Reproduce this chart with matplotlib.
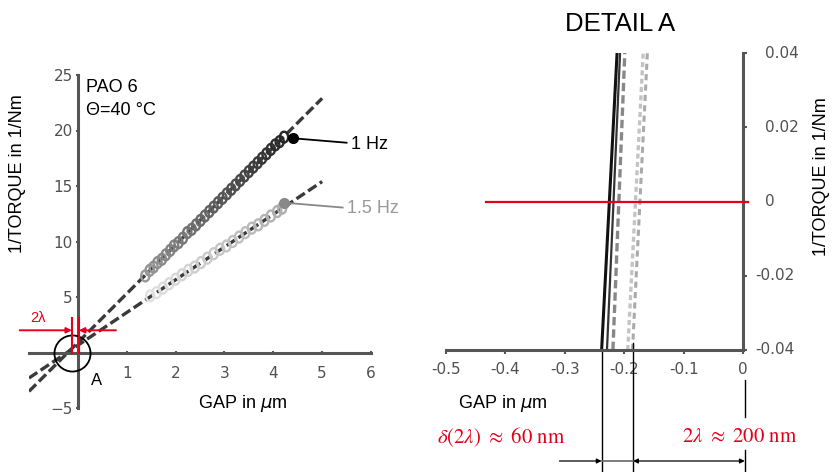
import numpy as np
import matplotlib
matplotlib.use("Agg")
from matplotlib import pyplot as plt
from matplotlib.path import Path
from matplotlib.transforms import Affine2D

plt.rcParams['font.family'] = ['Liberation Sans', 'DejaVu Sans']

# main plot data: measured points (gap in um, 1/torque in 1/Nm)
gap_1hz = [1.38, 1.47, 1.55, 1.63, 1.72, 1.80, 1.89, 1.97, 2.06, 2.15, 2.24,
           2.33, 2.42, 2.51, 2.60, 2.69, 2.78, 2.87, 2.96, 3.05, 3.14, 3.23,
           3.32, 3.41, 3.50, 3.59, 3.68, 3.77, 3.86, 3.95, 4.04, 4.13, 4.22]
inv_1hz = [6.9, 7.4, 7.7, 8.1, 8.4, 8.8, 9.2, 9.6, 9.9, 10.3, 10.8,
           11.1, 11.5, 11.9, 12.3, 12.7, 13.1, 13.5, 13.9, 14.3, 14.7, 15.1,
           15.5, 15.9, 16.3, 16.7, 17.1, 17.5, 17.9, 18.3, 18.7, 19.0, 19.4]
gap_15hz = [1.48, 1.61, 1.74, 1.87, 2.00, 2.13, 2.26, 2.39, 2.52, 2.65, 2.78,
            2.91, 3.04, 3.17, 3.30, 3.43, 3.56, 3.69, 3.82, 3.95, 4.08, 4.18]
inv_15hz = [5.1, 5.4, 5.8, 6.2, 6.6, 7.0, 7.4, 7.7, 8.1, 8.5, 8.9,
            9.3, 9.6, 10.0, 10.4, 10.8, 11.2, 11.5, 11.9, 12.3, 12.7, 13.0]
# fitted lines
fit_gap = [-1.0, 5.0]
fit_1hz = [-3.5, 22.9]
fit_15hz = [-2.3, 15.4]
# label points
dot_1hz = (4.40, 19.3)
dot_15hz = (4.21, 13.5)

# detail A: x positions of the fit lines at y = -0.04 and y = 0.04
detail_y = [-0.04, 0.04]
detail_lines = {
    'solid_black': [-0.238, -0.212],
    'solid_dark': [-0.229, -0.207],
    'dashed': [-0.219, -0.199],
    'dotted_a': [-0.194, -0.168],
    'dotted_b': [-0.186, -0.161],
}
delta_left = -0.238
delta_right = -0.185

RED = '#e3001b'
AXC = '#555555'
TICKFONT = dict(family='DejaVu Sans', size=11)
W, H = 835, 472


def fx(x):
    return x / W


def fy(y):
    return 1 - y / H


fig = plt.figure(figsize=(8.35, 4.72), dpi=100)

# ---------------- left: full range ----------------
ax1 = fig.add_axes([fx(29), fy(408), fx(342), 333 / H])
ax1.set_xlim(-1, 6)
ax1.set_ylim(-5, 25)
for s in ['top', 'right']:
    ax1.spines[s].set_visible(False)
for s in ['left', 'bottom']:
    ax1.spines[s].set_position(('data', 0))
    ax1.spines[s].set_color(AXC)
    ax1.spines[s].set_linewidth(2.2)
ax1.set_xticks([1, 2, 3, 4, 5, 6])
ax1.set_yticks([-5, 5, 10, 15, 20, 25])
ax1.tick_params(axis='both', colors=AXC, labelcolor='#505050',
                length=3, width=1.5, direction='inout')
ax1.tick_params(axis='x', pad=8)
ax1.tick_params(axis='y', pad=2)
for lab in ax1.get_xticklabels() + ax1.get_yticklabels():
    lab.set_fontfamily('DejaVu Sans')
    lab.set_fontsize(11)

ax1.plot(fit_gap, fit_1hz, color='#3a3a3a', lw=2.4, dashes=(3, 1.2), zorder=2)
ax1.plot(fit_gap, fit_15hz, color='#3a3a3a', lw=2.4, dashes=(3, 1.2), zorder=2)

ell = Path.unit_circle().transformed(Affine2D().scale(0.75, 1.0))
c1 = plt.cm.gray(np.linspace(0.6, 0.15, len(gap_1hz)))
c2 = plt.cm.gray(np.linspace(0.88, 0.68, len(gap_15hz)))
ax1.scatter(gap_1hz, inv_1hz, marker=ell, s=62, facecolors='none',
            edgecolors=c1, linewidths=1.7, zorder=3)
ax1.scatter(gap_15hz, inv_15hz, marker=ell, s=62, facecolors='none',
            edgecolors=c2, linewidths=1.7, zorder=3)

ax1.plot(*dot_1hz, 'o', color='black', ms=7, zorder=4)
ax1.plot([dot_1hz[0], 5.50], [dot_1hz[1], 18.9], color='black', lw=1.3, clip_on=False)
ax1.text(5.6, 18.75, '1 Hz', fontsize=13, va='center', ha='left')
ax1.plot(*dot_15hz, 'o', color='#888888', ms=7, zorder=4)
ax1.plot([dot_15hz[0], 5.42], [dot_15hz[1], 13.06], color='#888888', lw=1.3, clip_on=False)
ax1.text(5.5, 12.95, '1.5 Hz', fontsize=13, va='center', ha='left', color='#999999')

ax1.text(0.17, 23.9, 'PAO 6', fontsize=13, va='center')
ax1.text(0.17, 21.8, 'Θ=40 °C', fontsize=13, va='center')

# detail marker A
ax1.plot(-0.12, 0.0, 'o', ms=26, mfc='none', mec='black', mew=1.3, zorder=5)
ax1.text(0.38, -2.5, 'A', fontsize=12, ha='center', va='center')

# 2 lambda marks
ax1.plot([-0.12, -0.12], [0, 3.1], color=RED, lw=1.5, zorder=6)
ax1.plot([0.02, 0.02], [0, 3.1], color=RED, lw=1.5, zorder=6)
ax1.annotate('', xy=(-0.12, 2.0), xytext=(-1.19, 2.0),
             arrowprops=dict(arrowstyle='-|>', color=RED, lw=1.4, mutation_scale=8,
                             shrinkA=0, shrinkB=0), annotation_clip=False)
ax1.annotate('', xy=(0.02, 2.0), xytext=(0.78, 2.0),
             arrowprops=dict(arrowstyle='-|>', color=RED, lw=1.4, mutation_scale=8,
                             shrinkA=0, shrinkB=0), annotation_clip=False)
fig.text(fx(38), fy(318), '2λ', color=RED, fontsize=10.5, ha='center', va='center')

fig.text(fx(18), fy(174), '1/TORQUE in 1/Nm', rotation=90, fontsize=13,
         ha='center', va='center')
fig.text(fx(243), fy(404), r'GAP in $\mu$m', fontsize=13, ha='center', va='center')

# ---------------- right: detail A ----------------
ax2 = fig.add_axes([fx(446), fy(350), fx(297), 297 / H])
ax2.set_xlim(-0.5, 0)
ax2.set_ylim(-0.04, 0.04)
for s in ['top', 'left']:
    ax2.spines[s].set_visible(False)
for s in ['bottom', 'right']:
    ax2.spines[s].set_color(AXC)
    ax2.spines[s].set_linewidth(2.2)
ax2.yaxis.tick_right()
xt = [-0.5, -0.4, -0.3, -0.2, -0.1, 0]
ax2.set_xticks(xt)
ax2.set_xticklabels(['-0.5', '-0.4', '-0.3', '-0.2', '-0.1', '0'], **TICKFONT)
yt = [-0.04, -0.02, 0, 0.02, 0.04]
ax2.set_yticks(yt)
ax2.set_yticklabels([])
ax2.tick_params(axis='both', colors=AXC, labelcolor='#505050',
                length=3, width=1.5, direction='out')
ax2.tick_params(axis='x', pad=6)
for v in yt:
    lab = '0' if v == 0 else ('%.2f' % v)
    xoff = 22 if v >= 0 else 12
    ax2.annotate(lab, xy=(0, v), xycoords=('data', 'data'), xytext=(xoff, 0),
                 textcoords='offset pixels', ha='left', va='center',
                 color='#505050', annotation_clip=False,
                 fontfamily='DejaVu Sans', fontsize=11)

dy = detail_y
ax2.plot(detail_lines['solid_black'], dy, color='#111111', lw=2.2)
ax2.plot(detail_lines['solid_dark'], dy, color='#333333', lw=1.6)
ax2.plot(detail_lines['dashed'], dy, color='#888888', lw=2.4, dashes=(2.5, 1.2))
ax2.plot(detail_lines['dotted_a'], dy, color='#c4c4c4', lw=2.4, dashes=(1.5, 1.0))
ax2.plot(detail_lines['dotted_b'], dy, color='#aaaaaa', lw=2.2, dashes=(2.0, 1.4))
ax2.plot([-0.432, 0.008], [0, 0], color=RED, lw=1.6, clip_on=False, zorder=5)

fig.text(fx(620), fy(24), 'DETAIL A', fontsize=18.5, ha='center', va='center')
fig.text(fx(822), fy(177), '1/TORQUE in 1/Nm', rotation=90, fontsize=13,
         ha='center', va='center')
fig.text(fx(503), fy(404), r'GAP in $\mu$m', fontsize=13, ha='center', va='center')

# dimension lines below detail
ax2.plot([delta_left, delta_left], [-0.040, -0.073], color='black', lw=1.0, clip_on=False)
ax2.plot([delta_right, delta_right], [-0.038, -0.073], color='black', lw=1.0, clip_on=False)
ax2.plot([0.003, 0.003], [-0.0481, -0.058], color='black', lw=1.0, clip_on=False)
ax2.plot([0.003, 0.003], [-0.0669, -0.073], color='black', lw=1.0, clip_on=False)
ya = -0.0699
ax2.annotate('', xy=(delta_left, ya), xytext=(-0.309, ya),
             arrowprops=dict(arrowstyle='-|>', color='black', lw=0.9, mutation_scale=7,
                             shrinkA=0, shrinkB=0), annotation_clip=False)
ax2.plot([delta_left, delta_right], [ya, ya], color='#666666', lw=1.2, clip_on=False)
ax2.annotate('', xy=(delta_right, ya), xytext=(0.003, ya),
             arrowprops=dict(arrowstyle='<|-|>', color='black', lw=0.9, mutation_scale=7,
                             shrinkA=0, shrinkB=0), annotation_clip=False)

fig.text(fx(501), fy(437), r'$\delta(2\lambda)\ \approx\ 60\ \mathrm{nm}$', color=RED,
         fontsize=15, ha='center', va='center', math_fontfamily='stix')
fig.text(fx(740), fy(437), r'$2\lambda\ \approx\ 200\ \mathrm{nm}$', color=RED,
         fontsize=15, ha='center', va='center', math_fontfamily='stix')

plt.savefig('out.png', dpi=100)
